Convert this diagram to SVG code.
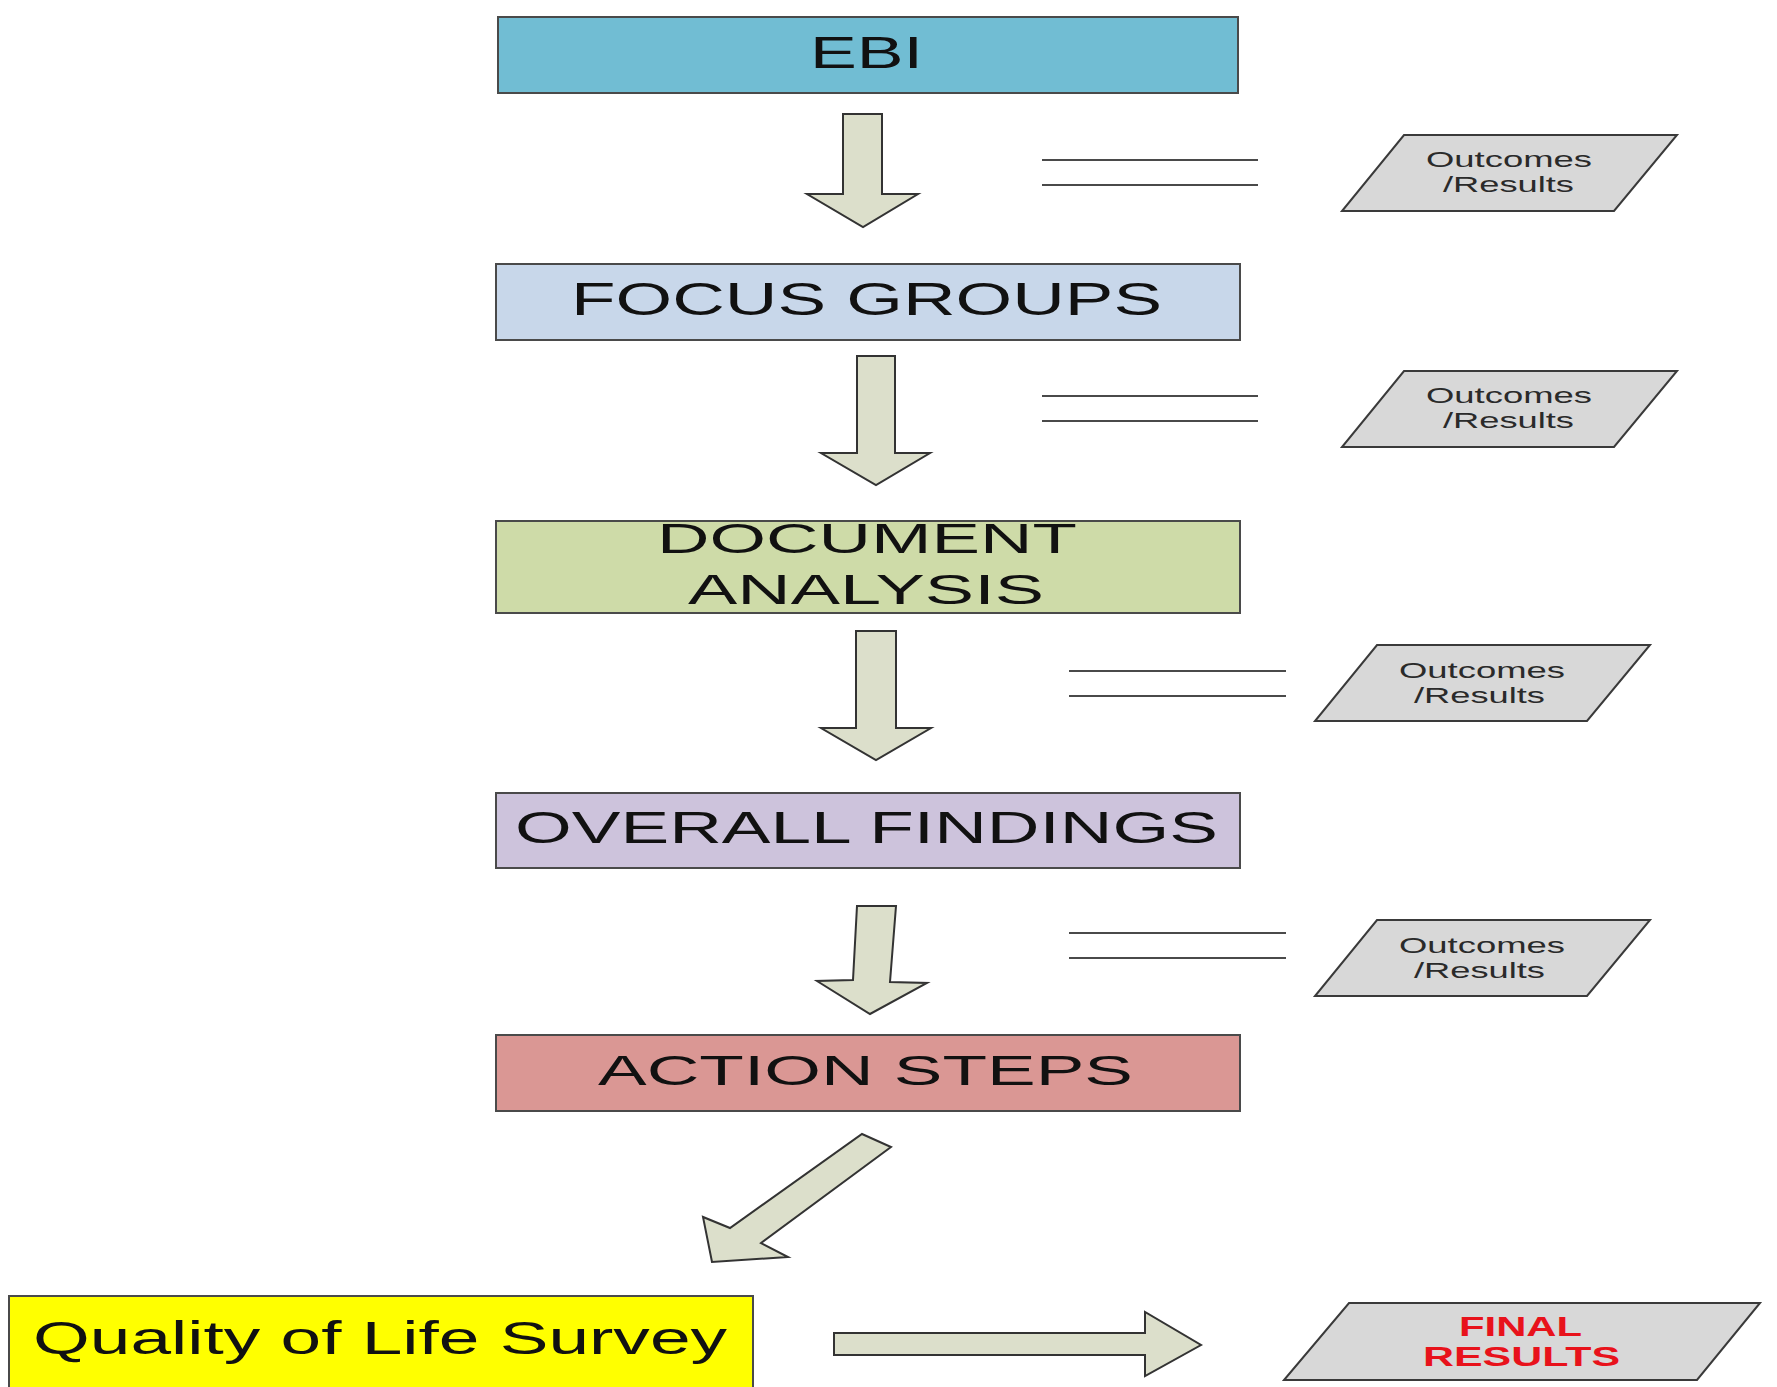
<svg xmlns="http://www.w3.org/2000/svg" width="1777" height="1387" viewBox="0 0 1777 1387">
  <style>
    .box { stroke: #4a4a4a; stroke-width: 2; }
    .para { fill: #d8d8d8; stroke: #3a3a3a; stroke-width: 2; }
    .arrow { fill: #dcdfcb; stroke: #333333; stroke-width: 2; stroke-linejoin: miter; }
    .rule { stroke: #4a4a4a; stroke-width: 2; }
    .big { font-family: "Liberation Sans", Arial, sans-serif; fill: #111111; }
    .small { font-family: "Liberation Sans", Arial, sans-serif; font-size: 22px; fill: #2a2a2a; }
    .final { font-family: "Liberation Sans", Arial, sans-serif; font-size: 27px; font-weight: bold; fill: #e8121b; }
  </style>
  <rect width="1777" height="1387" fill="#ffffff"/>

  <!-- main process boxes -->
  <g id="ebi">
    <rect class="box" x="498" y="17" width="740" height="76" fill="#71bdd3"/>
    <text class="big" x="810" y="68" font-size="44" textLength="113" lengthAdjust="spacingAndGlyphs">EBI</text>
  </g>
  <g id="focus-groups">
    <rect class="box" x="496" y="264" width="744" height="76" fill="#c8d7ea"/>
    <text class="big" x="571" y="315" font-size="46" textLength="591" lengthAdjust="spacingAndGlyphs">FOCUS GROUPS</text>
  </g>
  <g id="document-analysis">
    <rect class="box" x="496" y="521" width="744" height="92" fill="#cedba8"/>
    <text class="big" x="657" y="553" font-size="43" textLength="420" lengthAdjust="spacingAndGlyphs">DOCUMENT</text>
    <text class="big" x="688" y="604" font-size="43" textLength="356" lengthAdjust="spacingAndGlyphs">ANALYSIS</text>
  </g>
  <g id="overall-findings">
    <rect class="box" x="496" y="793" width="744" height="75" fill="#cdc3dc"/>
    <text class="big" x="515" y="843" font-size="45" textLength="703" lengthAdjust="spacingAndGlyphs">OVERALL FINDINGS</text>
  </g>
  <g id="action-steps">
    <rect class="box" x="496" y="1035" width="744" height="76" fill="#da9794"/>
    <text class="big" x="598" y="1085" font-size="43" textLength="535" lengthAdjust="spacingAndGlyphs">ACTION STEPS</text>
  </g>
  <g id="quality-of-life-survey">
    <rect class="box" x="9" y="1296" width="744" height="100" fill="#ffff00"/>
    <text class="big" x="33" y="1354" font-size="46" textLength="694" lengthAdjust="spacingAndGlyphs">Quality of Life Survey</text>
  </g>

  <!-- outcome parallelograms -->
  <g id="outcomes-1">
    <polygon class="para" points="1404,135 1677,135 1614,211 1342,211"/>
    <text class="small" x="1426" y="167" textLength="166" lengthAdjust="spacingAndGlyphs">Outcomes</text>
    <text class="small" x="1443" y="192" textLength="131" lengthAdjust="spacingAndGlyphs">/Results</text>
  </g>
  <g id="outcomes-2">
    <polygon class="para" points="1404,371 1677,371 1614,447 1342,447"/>
    <text class="small" x="1426" y="403" textLength="166" lengthAdjust="spacingAndGlyphs">Outcomes</text>
    <text class="small" x="1443" y="428" textLength="131" lengthAdjust="spacingAndGlyphs">/Results</text>
  </g>
  <g id="outcomes-3">
    <polygon class="para" points="1377,645 1650,645 1587,721 1315,721"/>
    <text class="small" x="1399" y="678" textLength="166" lengthAdjust="spacingAndGlyphs">Outcomes</text>
    <text class="small" x="1414" y="703" textLength="131" lengthAdjust="spacingAndGlyphs">/Results</text>
  </g>
  <g id="outcomes-4">
    <polygon class="para" points="1377,920 1650,920 1587,996 1315,996"/>
    <text class="small" x="1399" y="953" textLength="166" lengthAdjust="spacingAndGlyphs">Outcomes</text>
    <text class="small" x="1414" y="978" textLength="131" lengthAdjust="spacingAndGlyphs">/Results</text>
  </g>
  <g id="final-results">
    <polygon class="para" points="1349,1303 1760,1303 1697,1380 1284,1380"/>
    <text class="final" x="1459" y="1336" textLength="123" lengthAdjust="spacingAndGlyphs">FINAL</text>
    <text class="final" x="1423" y="1366" textLength="197" lengthAdjust="spacingAndGlyphs">RESULTS</text>
  </g>

  <!-- block arrows and double rules -->
  <g id="connectors">
    <polygon class="arrow" points="843,114 882,114 882,194 918,194 863,227 807,194 843,194"/>
    <polygon class="arrow" points="857,356 895,356 895,453 930,453 876,485 821,453 857,453"/>
    <polygon class="arrow" points="856,631 896,631 896,728 931,728 876,760 821,728 856,728"/>
    <polygon class="arrow" points="857,906 896,906 890,982 927,983 870,1014 817,981 853,980"/>
    <polygon class="arrow" points="862,1134 891,1147 761,1243 788,1257 712,1262 703,1217 730,1228"/>
    <polygon class="arrow" points="834,1333 1145,1333 1145,1312 1201,1345 1145,1376 1145,1355 834,1355"/>

    <line class="rule" x1="1042" y1="160" x2="1258" y2="160"/>
    <line class="rule" x1="1042" y1="185" x2="1258" y2="185"/>
    <line class="rule" x1="1042" y1="396" x2="1258" y2="396"/>
    <line class="rule" x1="1042" y1="421" x2="1258" y2="421"/>
    <line class="rule" x1="1069" y1="671" x2="1286" y2="671"/>
    <line class="rule" x1="1069" y1="696" x2="1286" y2="696"/>
    <line class="rule" x1="1069" y1="933" x2="1286" y2="933"/>
    <line class="rule" x1="1069" y1="958" x2="1286" y2="958"/>
  </g>
</svg>
